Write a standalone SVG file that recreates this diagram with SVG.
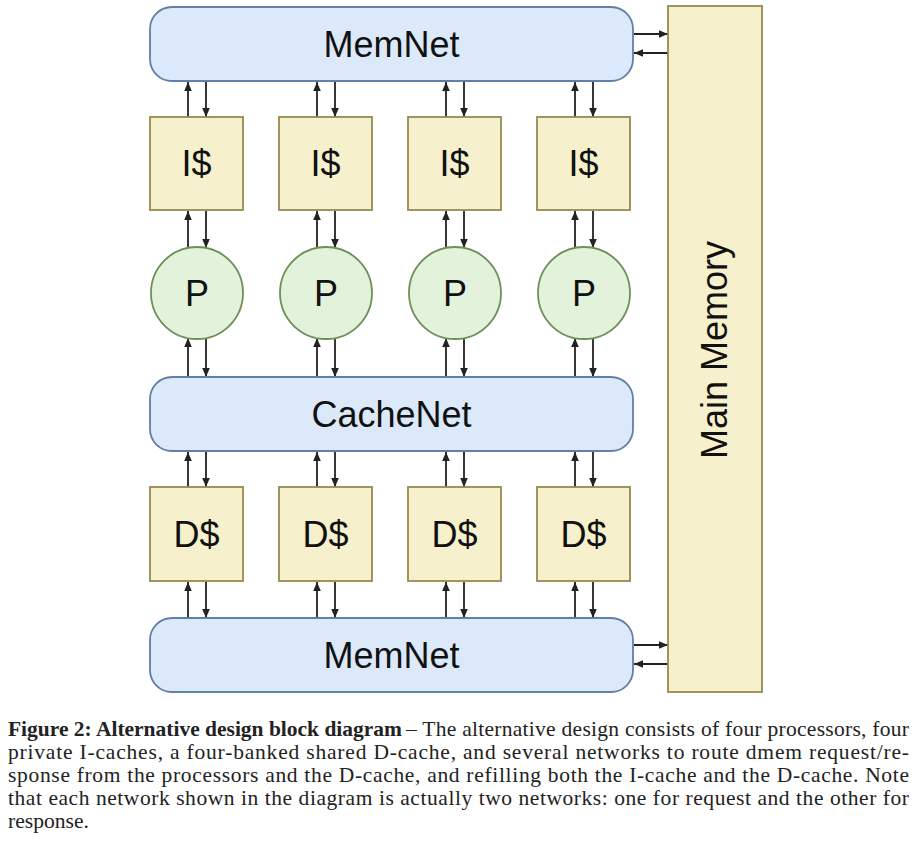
<svg xmlns="http://www.w3.org/2000/svg" width="916" height="844" viewBox="0 0 916 844">
<style>
.net{fill:#dce9fb;stroke:#627fa6;stroke-width:1.8}
.cache{fill:#f7f0cc;stroke:#968a50;stroke-width:1.8}
.proc{fill:#e3f2db;stroke:#6e8f5a;stroke-width:1.8}
.lbl{font-family:"Liberation Sans",Arial,sans-serif;font-size:36px;fill:#111;text-anchor:middle}
.ln{stroke:#222;stroke-width:1.8;fill:none;marker-end:url(#ah)}
.cap{font-family:"Liberation Serif","Times New Roman",serif;font-size:21.5px;fill:#222}
.capb{font-weight:bold}
</style>
<defs>
<marker id="ah" markerUnits="userSpaceOnUse" markerWidth="10" markerHeight="10" viewBox="0 0 10 10" refX="10" refY="5" orient="auto">
<path d="M1,1.2 L10,5 L1,8.8 Z" fill="#222"/>
</marker>
</defs>
<rect width="916" height="844" fill="#ffffff"/>

<g id="connectors">
<!-- MemNet top <-> I$ -->
<line class="ln" x1="188" y1="117" x2="188" y2="82"/><line class="ln" x1="206" y1="82" x2="206" y2="117"/>
<line class="ln" x1="317" y1="117" x2="317" y2="82"/><line class="ln" x1="335" y1="82" x2="335" y2="117"/>
<line class="ln" x1="446" y1="117" x2="446" y2="82"/><line class="ln" x1="464" y1="82" x2="464" y2="117"/>
<line class="ln" x1="575" y1="117" x2="575" y2="82"/><line class="ln" x1="593" y1="82" x2="593" y2="117"/>
<!-- I$ <-> P -->
<line class="ln" x1="188" y1="248" x2="188" y2="211"/><line class="ln" x1="206" y1="211" x2="206" y2="248"/>
<line class="ln" x1="317" y1="248" x2="317" y2="211"/><line class="ln" x1="335" y1="211" x2="335" y2="248"/>
<line class="ln" x1="446" y1="248" x2="446" y2="211"/><line class="ln" x1="464" y1="211" x2="464" y2="248"/>
<line class="ln" x1="575" y1="248" x2="575" y2="211"/><line class="ln" x1="593" y1="211" x2="593" y2="248"/>
<!-- P <-> CacheNet -->
<line class="ln" x1="188" y1="377" x2="188" y2="338"/><line class="ln" x1="206" y1="338" x2="206" y2="377"/>
<line class="ln" x1="317" y1="377" x2="317" y2="338"/><line class="ln" x1="335" y1="338" x2="335" y2="377"/>
<line class="ln" x1="446" y1="377" x2="446" y2="338"/><line class="ln" x1="464" y1="338" x2="464" y2="377"/>
<line class="ln" x1="575" y1="377" x2="575" y2="338"/><line class="ln" x1="593" y1="338" x2="593" y2="377"/>
<!-- CacheNet <-> D$ -->
<line class="ln" x1="188" y1="487" x2="188" y2="452"/><line class="ln" x1="206" y1="452" x2="206" y2="487"/>
<line class="ln" x1="317" y1="487" x2="317" y2="452"/><line class="ln" x1="335" y1="452" x2="335" y2="487"/>
<line class="ln" x1="446" y1="487" x2="446" y2="452"/><line class="ln" x1="464" y1="452" x2="464" y2="487"/>
<line class="ln" x1="575" y1="487" x2="575" y2="452"/><line class="ln" x1="593" y1="452" x2="593" y2="487"/>
<!-- D$ <-> MemNet bottom -->
<line class="ln" x1="188" y1="618" x2="188" y2="582"/><line class="ln" x1="206" y1="582" x2="206" y2="618"/>
<line class="ln" x1="317" y1="618" x2="317" y2="582"/><line class="ln" x1="335" y1="582" x2="335" y2="618"/>
<line class="ln" x1="446" y1="618" x2="446" y2="582"/><line class="ln" x1="464" y1="582" x2="464" y2="618"/>
<line class="ln" x1="575" y1="618" x2="575" y2="582"/><line class="ln" x1="593" y1="582" x2="593" y2="618"/>
<!-- MemNet <-> Main Memory -->
<line class="ln" x1="634" y1="34" x2="668" y2="34"/><line class="ln" x1="668" y1="53" x2="634" y2="53"/>
<line class="ln" x1="634" y1="645" x2="668" y2="645"/><line class="ln" x1="668" y1="664" x2="634" y2="664"/>
</g>

<g id="memnet-top"><rect class="net" x="150" y="7" width="483" height="74" rx="22"/><text class="lbl" x="391.5" y="57">MemNet</text></g>
<g id="cachenet"><rect class="net" x="150" y="377" width="483" height="74" rx="22"/><text class="lbl" x="391.5" y="427">CacheNet</text></g>
<g id="memnet-bottom"><rect class="net" x="150" y="618" width="483" height="74" rx="22"/><text class="lbl" x="391.5" y="668">MemNet</text></g>
<g id="main-memory"><rect class="cache" x="668" y="6" width="94" height="686"/><text class="lbl" transform="translate(727,350) rotate(-90)" x="0" y="0">Main Memory</text></g>

<g id="icache1"><rect class="cache" x="150" y="117" width="93" height="93"/><text class="lbl" x="196.5" y="176">I$</text></g>
<g id="icache2"><rect class="cache" x="279" y="117" width="93" height="93"/><text class="lbl" x="325.5" y="176">I$</text></g>
<g id="icache3"><rect class="cache" x="408" y="117" width="93" height="93"/><text class="lbl" x="454.5" y="176">I$</text></g>
<g id="icache4"><rect class="cache" x="537" y="117" width="93" height="93"/><text class="lbl" x="583.5" y="176">I$</text></g>

<g id="proc1"><circle class="proc" cx="197" cy="293" r="46"/><text class="lbl" x="197" y="306">P</text></g>
<g id="proc2"><circle class="proc" cx="326" cy="293" r="46"/><text class="lbl" x="326" y="306">P</text></g>
<g id="proc3"><circle class="proc" cx="455" cy="293" r="46"/><text class="lbl" x="455" y="306">P</text></g>
<g id="proc4"><circle class="proc" cx="584" cy="293" r="46"/><text class="lbl" x="584" y="306">P</text></g>

<g id="dcache1"><rect class="cache" x="150" y="487" width="93" height="94"/><text class="lbl" x="196.5" y="547">D$</text></g>
<g id="dcache2"><rect class="cache" x="279" y="487" width="93" height="94"/><text class="lbl" x="325.5" y="547">D$</text></g>
<g id="dcache3"><rect class="cache" x="408" y="487" width="93" height="94"/><text class="lbl" x="454.5" y="547">D$</text></g>
<g id="dcache4"><rect class="cache" x="537" y="487" width="93" height="94"/><text class="lbl" x="583.5" y="547">D$</text></g>

<g id="caption">
<text class="cap capb" x="8" y="736" textLength="394" lengthAdjust="spacingAndGlyphs">Figure 2: Alternative design block diagram</text>
<text class="cap" x="406" y="736" textLength="503" lengthAdjust="spacing">– The alternative design consists of four processors, four</text>
<text class="cap" x="8" y="759" textLength="901" lengthAdjust="spacing">private I-caches, a four-banked shared D-cache, and several networks to route dmem request/re-</text>
<text class="cap" x="8" y="782" textLength="901" lengthAdjust="spacing">sponse from the processors and the D-cache, and refilling both the I-cache and the D-cache.  Note</text>
<text class="cap" x="8" y="805" textLength="901" lengthAdjust="spacing">that each network shown in the diagram is actually two networks: one for request and the other for</text>
<text class="cap" x="8" y="828" textLength="81" lengthAdjust="spacingAndGlyphs">response.</text>
</g>
</svg>
